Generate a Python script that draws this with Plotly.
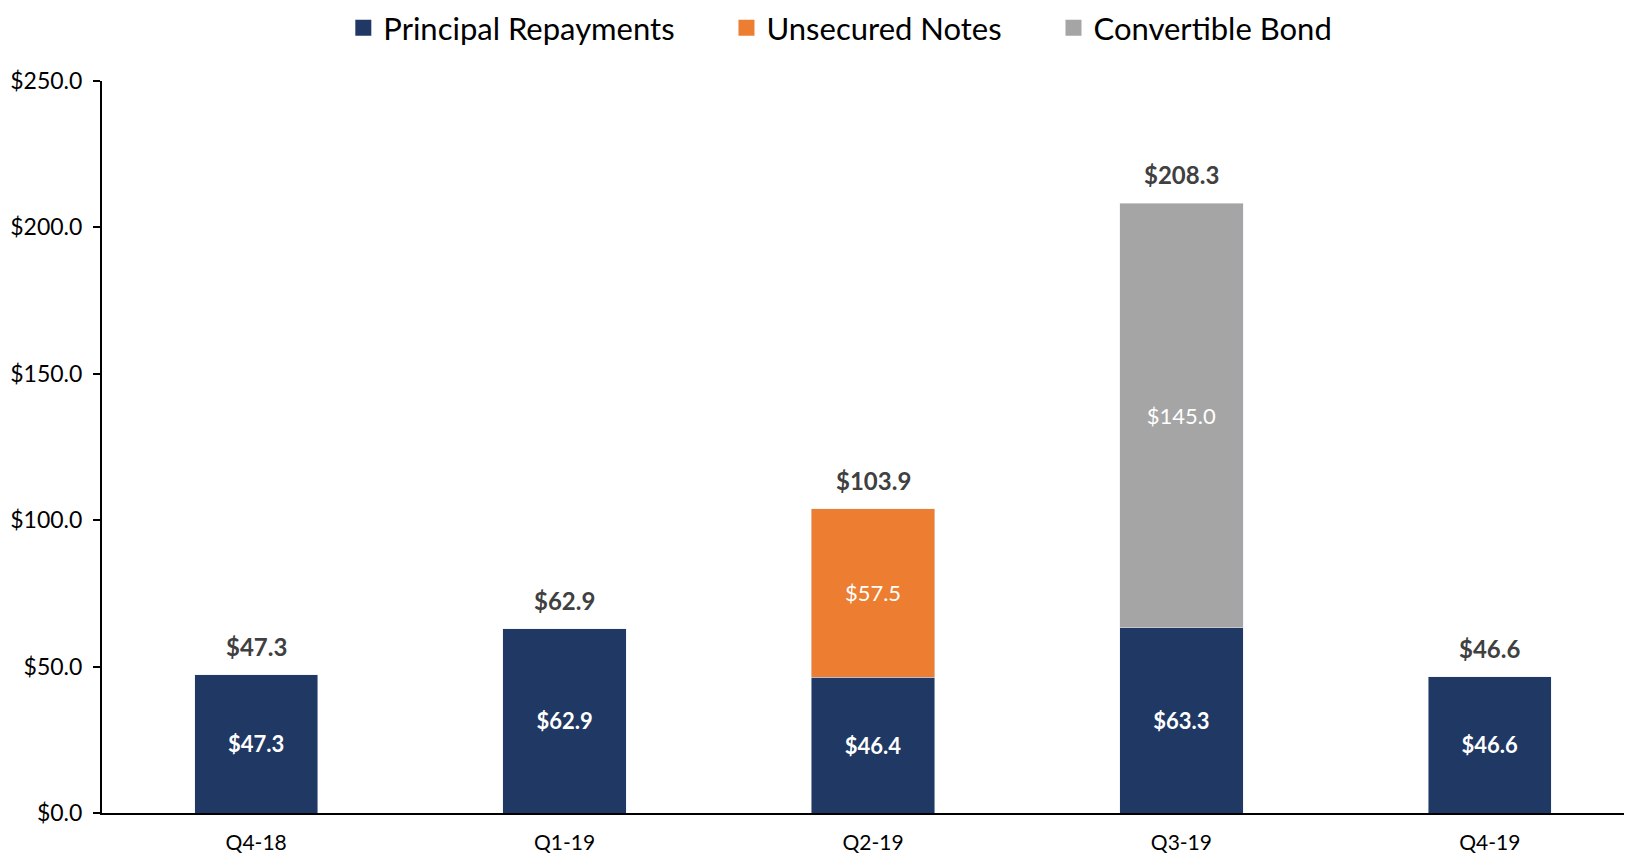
import plotly.graph_objects as go

categories = ["Q4-18", "Q1-19", "Q2-19", "Q3-19", "Q4-19"]
principal = [47.3, 62.9, 46.4, 63.3, 46.6]
unsecured = [None, None, 57.5, None, None]
convertible = [None, None, None, 145.0, None]
totals = [47.3, 62.9, 103.9, 208.3, 46.6]
y_ticks = [0, 50, 100, 150, 200, 250]
series_names = ["Principal Repayments", "Unsecured Notes", "Convertible Bond"]

FONT = "Lato"
NAVY = "#203864"
ORANGE = "#ED7D31"
GRAY = "#A5A5A5"
colors = [NAVY, ORANGE, GRAY]

def fmt(vals):
    return ["" if v is None else f"${v:.1f}" for v in vals]

fig = go.Figure()
fig.add_bar(name=series_names[0], x=categories, y=principal, marker_color=NAVY,
            text=fmt(principal), textposition="inside", insidetextanchor="middle",
            textfont=dict(color="white", size=22, family=FONT, weight="bold"), textangle=0,
            showlegend=False)
fig.add_bar(name=series_names[1], x=categories, y=unsecured, marker_color=ORANGE,
            text=fmt(unsecured), textposition="inside", insidetextanchor="middle",
            textfont=dict(color="white", size=22, family=FONT), textangle=0,
            showlegend=False)
fig.add_bar(name=series_names[2], x=categories, y=convertible, marker_color=GRAY,
            text=fmt(convertible), textposition="inside", insidetextanchor="middle",
            textfont=dict(color="white", size=22, family=FONT), textangle=0,
            showlegend=False)

# legend entries with larger square swatches
pad = "\u2002\u2002\u00a0\u00a0"
for i, (n, c) in enumerate(zip(series_names, colors)):
    label = n + (pad if i < len(series_names) - 1 else "")
    fig.add_scatter(x=[None], y=[None], mode="markers", name=label,
                    marker=dict(symbol="square", size=19, color=c))

for c, t in zip(categories, totals):
    fig.add_annotation(x=c, y=t, text=f"<b>${t:.1f}</b>", showarrow=False,
                       yanchor="bottom", yshift=12,
                       font=dict(size=24, color="#404040", family=FONT))

fig.update_layout(
    barmode="stack",
    bargap=0.6,
    width=1632, height=854,
    margin=dict(l=94, r=0, t=73, b=49, autoexpand=False),
    paper_bgcolor="white", plot_bgcolor="white",
    font=dict(family=FONT, color="#000000"),
    showlegend=True,
    legend=dict(orientation="h", x=0.51, xanchor="center", y=0.9766, yanchor="middle",
                yref="container", xref="container",
                font=dict(size=31, color="#000000", family=FONT),
                itemwidth=30, traceorder="normal", tracegroupgap=0),
)
fig.update_xaxes(range=[-0.5, 4.487], showline=True, linecolor="black", linewidth=2,
                 ticks="", tickfont=dict(size=21, family=FONT, color="#000000"),
                 ticklabelstandoff=10,
                 showgrid=False, zeroline=False, automargin=False)
fig.update_yaxes(range=[0, 250], tickvals=y_ticks, ticktext=[f"${v:.1f}" for v in y_ticks],
                 showline=True, linecolor="black", linewidth=2, ticks="outside",
                 ticklen=7, tickwidth=1.5, tickcolor="black",
                 ticklabelstandoff=6,
                 tickfont=dict(size=23, family=FONT, color="#000000"),
                 showgrid=False, zeroline=False, automargin=False)

fig.write_html("out.html")
